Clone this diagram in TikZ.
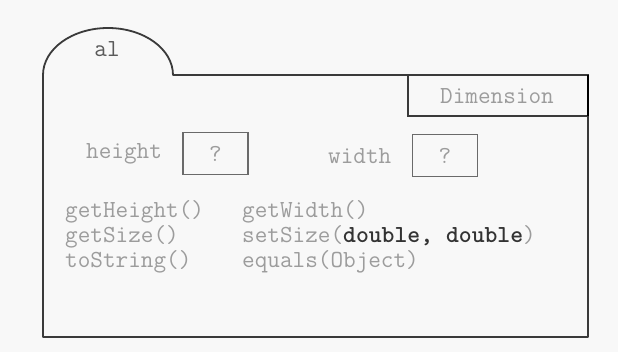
\documentclass[tikz,border=0pt]{standalone}
\usepackage{fontspec}
\definecolor{paper}{HTML}{F8F8F8}
\definecolor{frame}{HTML}{3A3A3A}
\definecolor{soft}{HTML}{9C9C9C}
\definecolor{label}{HTML}{5A5A5A}
\definecolor{slot}{HTML}{6A6A6A}
\begin{document}
\begin{tikzpicture}[x=1pt,y=-1pt,
  txt/.style={inner sep=0pt,font=\fontsize{24.5}{28}\selectfont\ttfamily,text=soft},
  meth/.style={txt,anchor=base west},
  slotbox/.style={draw=slot,line width=1.6pt,minimum width=65pt,minimum height=42pt,inner sep=0pt,font=\fontsize{24.5}{28}\selectfont\ttfamily,text=soft}]
  % canvas
  \fill[paper] (0,0) rectangle (618,352);
  \useasboundingbox (0,0) rectangle (618,352);
  % object outline: tab on the top left, body below
  \draw[frame,line width=1.8pt,line join=round]
    (43,337) -- (43,75) arc[start angle=180,end angle=360,x radius=65,y radius=47]
    -- (588,75) -- (588,337) -- cycle;
  % class name tag
  \draw[frame,line width=1.6pt] (408,75) rectangle (588,116);
  \draw[black,line width=2.6pt] (588,75) -- (588,116);
  \node[txt] (cls) at (497,96) {Dimension};
  % object name
  \node[txt,text=label] (obj) at (107,49) {al};
  % fields
  \node[txt,anchor=west] (hlab) at (86,154) {height};
  \node[slotbox] (hval) at (215.5,153.5) {?};
  \node[txt,anchor=west] (wlab) at (328,156) {width};
  \node[slotbox] (wval) at (445,155.5) {?};
  % methods
  \node[meth] (m1) at (65,218) {getHeight()};
  \node[meth] (m2) at (242,218) {getWidth()};
  \node[meth] (m3) at (65,243) {getSize()};
  \node[meth] (m4) at (242,243) {setSize(\textcolor{black!80}{\bfseries double, double})};
  \node[meth] (m5) at (65,268) {toString()};
  \node[meth] (m6) at (242,268) {equals(Object)};
\end{tikzpicture}
\end{document}
